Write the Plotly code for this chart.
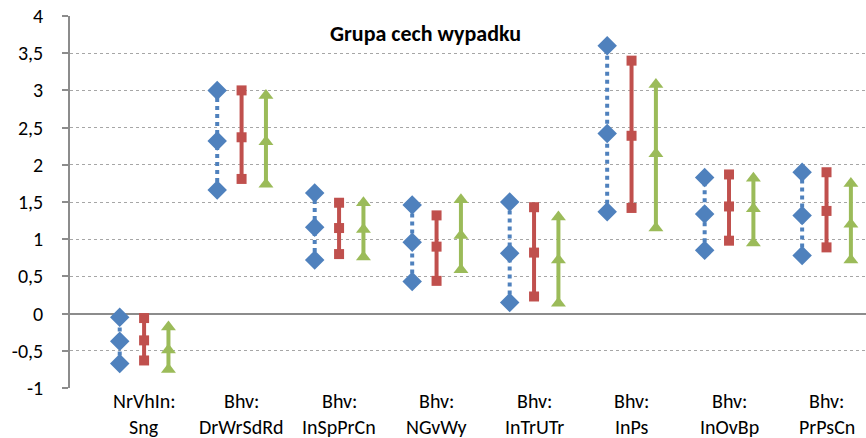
import plotly.graph_objects as go

# ---- data ----
cat_line1 = ["NrVhIn:", "Bhv:", "Bhv:", "Bhv:", "Bhv:", "Bhv:", "Bhv:", "Bhv:"]
cat_line2 = ["Sng", "DrWrSdRd", "InSpPrCn", "NGvWy", "InTrUTr", "InPs", "InOvBp", "PrPsCn"]

blue_high = [-0.05, 3.00, 1.62, 1.46, 1.50, 3.60, 1.83, 1.90]
blue_mid = [-0.37, 2.32, 1.16, 0.96, 0.81, 2.42, 1.34, 1.32]
blue_low = [-0.67, 1.66, 0.72, 0.43, 0.15, 1.37, 0.85, 0.78]

red_high = [-0.06, 3.00, 1.49, 1.32, 1.43, 3.40, 1.87, 1.90]
red_mid = [-0.36, 2.37, 1.15, 0.90, 0.82, 2.39, 1.44, 1.38]
red_low = [-0.63, 1.81, 0.80, 0.44, 0.23, 1.42, 0.98, 0.89]

green_high = [-0.18, 2.93, 1.49, 1.53, 1.30, 3.08, 1.82, 1.75]
green_mid = [-0.49, 2.31, 1.13, 1.05, 0.72, 2.15, 1.41, 1.20]
green_low = [-0.75, 1.74, 0.76, 0.59, 0.14, 1.15, 0.95, 0.72]

y_tickvals = [-1, -0.5, 0, 0.5, 1, 1.5, 2, 2.5, 3, 3.5, 4]
y_ticktext = ["-1", "-0,5", "0", "0,5", "1", "1,5", "2", "2,5", "3", "3,5", "4"]

title_text = "Grupa cech wypadku"

FONT = "Calibri, Carlito, Lato, sans-serif"


def build(offset, low, mid, high):
    xs, ys = [], []
    for i, (a, b, c) in enumerate(zip(low, mid, high)):
        xs += [i + offset] * 3 + [None]
        ys += [a, b, c, None]
    return xs, ys


series = [
    (-0.25, blue_low, blue_mid, blue_high, "#4F81BD", "diamond", 15, "dot", 4),
    (0.0, red_low, red_mid, red_high, "#C0504D", "square", 10, "solid", 4),
    (0.25, green_low, green_mid, green_high, "#9BBB59", "triangle-up", 13, "solid", 4),
]

fig = go.Figure()
for off, lo, mi, hi, col, sym, size, dash, lw in series:
    xs, ys = build(off, lo, mi, hi)
    fig.add_trace(go.Scatter(
        x=xs, y=ys, mode="lines+markers", connectgaps=False, cliponaxis=False,
        line=dict(color=col, width=lw, dash=dash),
        marker=dict(symbol=sym, size=size, color=col, line=dict(width=0)),
        showlegend=False, hoverinfo="skip",
    ))

# white box behind the title, interrupting the gridline
fig.add_shape(type="rect", xref="x", yref="y", x0=1.374, x1=3.99, y0=3.56, y1=4.05,
              fillcolor="white", line=dict(width=0), layer="between")

fig.add_annotation(text="<b>" + title_text + "</b>", xref="paper", yref="paper",
                   x=0.447, y=0.954, xanchor="center", yanchor="middle", showarrow=False,
                   font=dict(family=FONT, size=22, color="black"))

# two-line category labels under the plot
for i, (l1, l2) in enumerate(zip(cat_line1, cat_line2)):
    fig.add_annotation(text=l1, xref="x", yref="paper", x=i, y=-0.036,
                       xanchor="center", yanchor="middle", showarrow=False,
                       font=dict(family=FONT, size=20, color="black"))
    fig.add_annotation(text=l2, xref="x", yref="paper", x=i, y=-0.106,
                       xanchor="center", yanchor="middle", showarrow=False,
                       font=dict(family=FONT, size=20, color="black"))

fig.update_layout(
    width=866, height=438,
    margin=dict(l=70, r=0, t=16, b=50, autoexpand=False),
    plot_bgcolor="white", paper_bgcolor="white",
    font=dict(family=FONT, size=20, color="black"),
    xaxis=dict(
        range=[-0.76, 7.405], showgrid=False, zeroline=False, showline=False,
        showticklabels=False, ticks="", automargin=False,
    ),
    yaxis=dict(
        range=[-1, 4], tickmode="array", tickvals=y_tickvals, ticktext=y_ticktext,
        showgrid=True, gridcolor="#A6A6A6", griddash="dot", gridwidth=1,
        zeroline=True, zerolinecolor="#8C8C8C", zerolinewidth=1.5,
        showline=True, linecolor="#8C8C8C", linewidth=1.5,
        ticks="outside", ticklen=6, tickcolor="#8C8C8C", tickwidth=1.5,
        ticklabelstandoff=15, tickfont=dict(size=20), automargin=False,
    ),
)

fig.write_html("out.html", config={"displayModeBar": False},
               post_script="document.body.style.margin='0';document.body.style.overflow='hidden';")
